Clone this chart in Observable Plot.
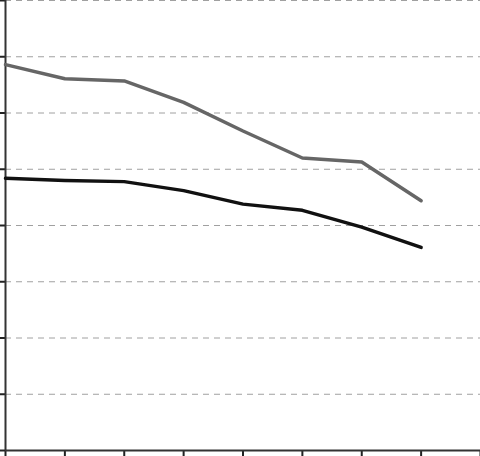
<!DOCTYPE html>
<html>
<head>
<meta charset="utf-8">
<script src="https://cdn.jsdelivr.net/npm/d3@7"></script>
<script src="https://cdn.jsdelivr.net/npm/@observablehq/plot@0.6"></script>
<style>
  html, body { margin: 0; padding: 0; background: #fff; }
  #chart svg { display: block; overflow: visible; }
</style>
</head>
<body>
<div id="chart"></div>
<script>
const periods = [0, 1, 2, 3, 4, 5, 6, 7];
const seriesGray = [68.6, 66.1, 65.7, 61.9, 56.8, 52.0, 51.3, 44.4];
const seriesBlack = [48.4, 48.0, 47.8, 46.2, 43.8, 42.7, 39.7, 36.1];
const xTicks = [0, 1, 2, 3, 4, 5, 6, 7, 8];
const yTicks = [0, 10, 20, 30, 40, 50, 60, 70, 80];

const gray = periods.map((p, i) => ({x: p, y: seriesGray[i]}));
const black = periods.map((p, i) => ({x: p, y: seriesBlack[i]}));

const chart = Plot.plot({
  width: 480,
  height: 456,
  marginLeft: 5,
  marginRight: 0,
  marginTop: 0,
  marginBottom: 6,
  x: {domain: [0, 8], label: null},
  y: {domain: [0, 80], label: null},
  style: {background: "white"},
  marks: [
    Plot.gridY(yTicks, {stroke: "#a0a0a0", strokeOpacity: 1, strokeWidth: 1, strokeDasharray: "6,5"}),
    Plot.axisY(yTicks, {anchor: "left", label: null, tickSize: 5, tickFormat: () => "", stroke: "#222", strokeWidth: 2}),
    Plot.axisX(xTicks, {anchor: "bottom", label: null, tickSize: 6, tickFormat: () => "", stroke: "#222", strokeWidth: 2}),
    Plot.ruleX([0], {stroke: "#333", strokeWidth: 2}),
    Plot.ruleY([0], {stroke: "#333", strokeWidth: 2}),
    Plot.line(gray, {x: "x", y: "y", stroke: "#666", strokeWidth: 3.5}),
    Plot.line(black, {x: "x", y: "y", stroke: "#111", strokeWidth: 3.5})
  ]
});
document.getElementById("chart").appendChild(chart);
</script>
</body>
</html>
